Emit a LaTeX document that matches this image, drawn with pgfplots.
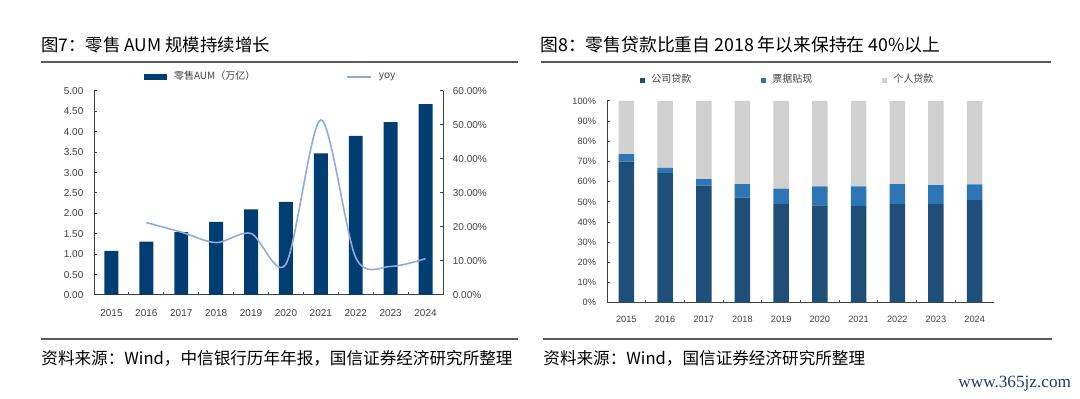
\documentclass[border=0pt]{standalone}
\usepackage{fontspec}
\setmainfont{Liberation Sans}
\newfontfamily\cjk{Noto Sans CJK SC}
\newfontfamily\wmfont{Liberation Serif}
\usepackage{pgfplots}
\pgfplotsset{compat=1.18}
\definecolor{aumblue}{HTML}{003D73}
\definecolor{yoyblue}{HTML}{8FAADC}
\definecolor{corp}{HTML}{1F4E79}
\definecolor{bill}{HTML}{2E75B6}
\definecolor{pers}{HTML}{D0D0D0}
\definecolor{axisgray}{HTML}{404040}
\definecolor{rulegray}{HTML}{5A5A5A}
\definecolor{wm}{HTML}{1E3A78}
\begin{document}
\begin{tikzpicture}[x=0.5pt,y=-0.5pt]
\path[use as bounding box] (0,0) rectangle (1080,399);
% titles and rules
\node[anchor=west,inner sep=0] at (41,45) {\cjk\fontsize{8.7}{10}\selectfont 图7：零售 AUM 规模持续增长};
\node[anchor=west,inner sep=0] at (540,45) {\cjk\fontsize{8.9}{10}\selectfont 图8：零售贷款比重自 2018 年以来保持在 40\%以上};
\draw[rulegray,line width=1pt] (41,62) -- (518,62);
\draw[rulegray,line width=1pt] (541,62) -- (1051,62);
\draw[rulegray,line width=1pt] (41,339) -- (518,339);
\draw[rulegray,line width=1pt] (543,339) -- (1052,339);
\node[anchor=west,inner sep=0] at (41,358) {\cjk\fontsize{8.3}{10}\selectfont 资料来源：Wind，中信银行历年年报，国信证券经济研究所整理};
\node[anchor=west,inner sep=0] at (543,358) {\cjk\fontsize{8.3}{10}\selectfont 资料来源：Wind，国信证券经济研究所整理};
\node[anchor=west,inner sep=0,text=wm] at (958,384) {\wmfont\fontsize{8.6}{10}\selectfont www.365jz.com};

% ---------- left chart: bars ----------
\begin{axis}[
  at={(47pt,-147.5pt)}, anchor=south west,
  scale only axis, width=174.5pt, height=102pt,
  xmin=-0.5, xmax=9.5, ymin=0, ymax=5,
  axis x line*=bottom, axis y line*=left,
  axis line style={axisgray, line width=0.5pt},
  tick align=inside, major tick length=1.5pt,
  tick style={axisgray, line width=0.5pt},
  xtick={0.5,1.5,2.5,3.5,4.5,5.5,6.5,7.5,8.5}, xticklabels={,,,,,,,,},
  extra x ticks={0,1,2,3,4,5,6,7,8,9},
  extra x tick labels={2015,2016,2017,2018,2019,2020,2021,2022,2023,2024},
  extra x tick style={major tick length=0pt},
  ytick={0,0.5,1,1.5,2,2.5,3,3.5,4,4.5,5},
  yticklabels={0.00,0.50,1.00,1.50,2.00,2.50,3.00,3.50,4.00,4.50,5.00},
  ticklabel style={font=\fontsize{5}{6}\selectfont, text=axisgray},
  xticklabel style={yshift=-3.5pt},
  yticklabel style={xshift=-1.8pt},
  legend style={at={(0.509,1.069)}, anchor=center, draw=none, fill=none,
    legend columns=-1, font=\cjk\fontsize{5}{6}\selectfont, text=axisgray,
    /tikz/every even column/.append style={column sep=43.5pt},
    /tikz/every odd column/.append style={column sep=1.5pt}},
]
\addplot[ybar, bar width=0.4, fill=aumblue, draw=none,
  legend image code/.code={\fill[aumblue] (0pt,-1.3pt) rectangle (11.5pt,1.3pt);}]
  coordinates {(0,1.08) (1,1.31) (2,1.54) (3,1.79) (4,2.10) (5,2.28) (6,3.47) (7,3.90) (8,4.24) (9,4.68)};
\addlegendentry{零售AUM（万亿）}
\addlegendimage{yoyblue, line width=0.8pt,
  legend image code/.code={\draw[yoyblue,line width=0.8pt] (0pt,0pt) -- (12pt,0pt);}}
\addlegendentry{yoy}
\end{axis}

% ---------- left chart: yoy line ----------
\begin{axis}[
  at={(47pt,-147.5pt)}, anchor=south west,
  scale only axis, width=174.5pt, height=102pt,
  xmin=-0.5, xmax=9.5, ymin=0, ymax=60,
  axis y line*=right, axis x line=none,
  axis line style={axisgray, line width=0.5pt},
  tick align=inside, major tick length=1.5pt,
  tick style={axisgray, line width=0.5pt},
  ytick={0,10,20,30,40,50,60},
  yticklabels={0.00\%,10.00\%,20.00\%,30.00\%,40.00\%,50.00\%,60.00\%},
  ticklabel style={font=\fontsize{5}{6}\selectfont, text=axisgray},
  yticklabel style={xshift=1.4pt},
]
\addplot[yoyblue, line width=0.8pt, smooth, no marks]
  coordinates {(1,21.3) (2,18.5) (3,15.4) (4,18.1) (5,9.1) (6,51.5) (7,11.0) (8,8.4) (9,10.7)};
\end{axis}

% ---------- right chart: stacked ----------
\begin{axis}[
  at={(303.5pt,-151.35pt)}, anchor=south west,
  scale only axis, width=193.5pt, height=100.85pt,
  ybar stacked, bar width=0.4,
  xmin=-0.5, xmax=9.5, ymin=0, ymax=100,
  axis x line*=bottom, axis y line*=left,
  axis line style={axisgray, line width=0.5pt},
  tick align=inside, major tick length=1.5pt,
  tick style={axisgray, line width=0.5pt},
  xtick={0.5,1.5,2.5,3.5,4.5,5.5,6.5,7.5,8.5}, xticklabels={,,,,,,,,},
  extra x ticks={0,1,2,3,4,5,6,7,8,9},
  extra x tick labels={2015,2016,2017,2018,2019,2020,2021,2022,2023,2024},
  extra x tick style={major tick length=0pt},
  ytick={0,10,20,30,40,50,60,70,80,90,100},
  yticklabels={0\%,10\%,20\%,30\%,40\%,50\%,60\%,70\%,80\%,90\%,100\%},
  ticklabel style={font=\fontsize{4.6}{5.5}\selectfont, text=axisgray},
  xticklabel style={yshift=-3.2pt},
  yticklabel style={xshift=-2pt},
  legend style={at={(0.470,1.104)}, anchor=center, draw=none, fill=none,
    legend columns=-1, font=\cjk\fontsize{5}{6}\selectfont, text=axisgray,
    /tikz/every even column/.append style={column sep=33pt},
    /tikz/every odd column/.append style={column sep=1pt}},
]
\addplot[fill=corp, draw=none,
  legend image code/.code={\fill[corp] (0pt,-1.25pt) rectangle (2.5pt,1.25pt);}]
  coordinates {(0,69.9) (1,64.3) (2,58.0) (3,52.1) (4,48.9) (5,48.3) (6,47.9) (7,48.9) (8,48.9) (9,50.9)};
\addlegendentry{公司贷款}
\addplot[fill=bill, draw=none,
  legend image code/.code={\fill[bill] (0pt,-1.25pt) rectangle (2.5pt,1.25pt);}]
  coordinates {(0,3.7) (1,2.6) (2,3.3) (3,6.7) (4,7.6) (5,9.4) (6,9.8) (7,9.9) (8,9.4) (9,7.8)};
\addlegendentry{票据贴现}
\addplot[fill=pers, draw=none,
  legend image code/.code={\fill[pers] (0pt,-1.25pt) rectangle (2.5pt,1.25pt);}]
  coordinates {(0,26.4) (1,33.1) (2,38.7) (3,41.2) (4,43.5) (5,42.3) (6,42.3) (7,41.2) (8,41.7) (9,41.3)};
\addlegendentry{个人贷款}
\end{axis}
\end{tikzpicture}
\end{document}
